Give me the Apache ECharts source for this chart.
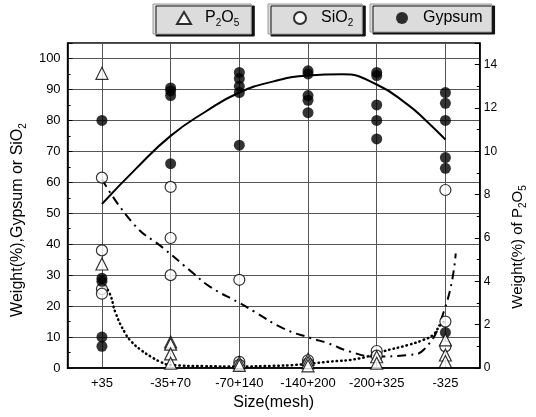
<!DOCTYPE html>
<html>
<head>
<meta charset="utf-8">
<script src="https://cdn.jsdelivr.net/npm/echarts@6/dist/echarts.min.js"></script>
<style>
    html, body { margin: 0; padding: 0; background: #fff; }
    #main { width: 536px; height: 417px; }
</style>
</head>
<body>
<div id="main"></div>
<script>
    var categories = ['+35', '-35+70', '-70+140', '-140+200', '-200+325', '-325'];

    // measured points, one list per size fraction (left axis, %)
    var gypsum = [
        [80, 29, 28, 10, 7],
        [90.5, 89.5, 88, 66],
        [95.5, 93.5, 91, 89, 72],
        [96, 95, 88, 86.5, 82.5],
        [95.5, 94.5, 85, 80, 74],
        [89, 85.5, 80, 68, 64.5, 11.5]
    ];
    var sio2 = [
        [61.5, 38, 25.5, 24],
        [58.5, 42, 30],
        [28.5, 2, 1],
        [2.5, 1.5],
        [5.5, 4],
        [57.5, 15, 7]
    ];
    // right axis, %
    var p2o5 = [
        [13.6, 4.8],
        [1.2, 1.1, 0.65, 0.22],
        [0.25, 0.12],
        [0.4, 0.25, 0.1],
        [0.52, 0.22],
        [1.3, 0.6, 0.3]
    ];

    // fitted curves (x = category position)
    var gypsumFitX = [1, 1.5, 2, 2.5, 3, 3.5, 4, 4.5, 5, 5.45, 5.7, 6];
    var gypsumFitY = [53, 64.5, 75, 82.7, 89, 92.6, 94.5, 94.9, 91.6, 85.1, 80.3, 73.8];
    var dashFitX = [1, 1.47, 1.89, 2.33, 2.57, 3.01, 3.22, 3.64, 4.05, 4.29, 4.61, 4.98, 5.45, 5.68, 6.0, 6.15];
    var dashFitY = [61, 46.3, 38.8, 30.6, 26.3, 20.9, 18.2, 12.8, 9.6, 8.0, 5.3, 3.7, 4.2, 5.8, 19.8, 37];
    var dotFitX = [1, 1.11, 1.2, 1.34, 1.43, 1.57, 1.71, 1.85, 1.99, 2.5, 3, 3.5, 3.82, 4.29, 4.75, 5.08, 5.45, 5.68, 5.82, 5.91, 5.98];
    var dotFitY = [27.5, 24.2, 17.7, 11.2, 8.5, 5.8, 3.7, 2, 1, 0.6, 0.5, 0.7, 1, 2, 3.1, 5.3, 7.4, 9.1, 10.7, 13.4, 15];

    var font = '"Liberation Sans", Arial, sans-serif';

    function toPoints(groups) {
        var pts = [];
        groups.forEach(function (vals, i) {
            vals.forEach(function (v) { pts.push([i + 1, v]); });
        });
        return pts;
    }
    function zip(xs, ys) {
        return xs.map(function (x, i) { return [x, ys[i]]; });
    }

    var subRich = {
        n: { fontSize: 16, lineHeight: 20, fontFamily: font, color: '#000' },
        s: { fontSize: 10, lineHeight: 10, verticalAlign: 'bottom', fontFamily: font, color: '#000' }
    };

    function legendBox(name, label, left, padding) {
        return {
            data: [name],
            left: left,
            top: 4,
            padding: padding,
            itemWidth: 14,
            itemHeight: 12,
            selectedMode: false,
            backgroundColor: '#dcdcdc',
            borderColor: '#999',
            borderWidth: 1,
            shadowColor: '#111',
            shadowOffsetX: 3,
            shadowOffsetY: 2,
            shadowBlur: 0,
            formatter: function () { return label; },
            textStyle: { fontFamily: font, fontSize: 16, color: '#000', padding: [0, 0, 0, 9], rich: subRich }
        };
    }

    var myChart = echarts.init(document.getElementById('main'));
    myChart.setOption({
        animation: false,
        textStyle: { fontFamily: font },
        legend: [
            legendBox('P2O5', '{n|P}{s|2}{n|O}{s|5}', 153, [6, 12, 6, 23]),
            legendBox('SiO2', '{n|SiO}{s|2}', 268, [6, 9, 6, 25]),
            legendBox('Gypsum', '{n|Gypsum}', 370, [6, 9, 6, 26])
        ],
        grid: {
            left: 62,
            right: 44,
            top: 43,
            bottom: 49,
            show: true,
            borderColor: '#000',
            borderWidth: 1.5
        },
        xAxis: [
            {
                type: 'category',
                data: categories,
                boundaryGap: true,
                name: 'Size(mesh)',
                nameLocation: 'middle',
                nameGap: 24,
                nameTextStyle: { fontSize: 16, color: '#000' },
                axisLine: { lineStyle: { color: '#000', width: 1.5 } },
                axisTick: { alignWithLabel: true, inside: true, length: 5, lineStyle: { color: '#000' } },
                axisLabel: { interval: 0, fontSize: 13, color: '#000', margin: 9 },
                splitLine: { show: true, alignWithLabel: true, lineStyle: { color: '#555', width: 1 } }
            },
            {
                type: 'value',
                min: 0.5,
                max: 6.5,
                show: false
            }
        ],
        yAxis: [
            {
                type: 'value',
                min: 0,
                max: 105,
                interval: 10,
                position: 'left',
                name: 'Weight(%),Gypsum or SiO{s|2}',
                nameLocation: 'middle',
                nameRotate: 90,
                nameGap: 32,
                nameTextStyle: { fontSize: 16, lineHeight: 20, color: '#000', padding: [0, 29, 0, 0], rich: subRich },
                axisLine: { show: true, lineStyle: { color: '#000', width: 1.5 } },
                axisTick: { inside: true, length: 5, lineStyle: { color: '#000' } },
                minorTick: { show: true, splitNumber: 2, length: 3, lineStyle: { color: '#000' } },
                axisLabel: {
                    fontSize: 13, color: '#000', margin: 7, showMaxLabel: false,
                    formatter: function (v) { return v > 100 ? '' : v; }
                },
                splitLine: { lineStyle: { color: '#555', width: 1 } }
            },
            {
                type: 'value',
                min: 0,
                max: 15,
                interval: 2,
                position: 'right',
                name: 'Weight(%) of P{s|2}O{s|5}',
                nameLocation: 'middle',
                nameRotate: 90,
                nameGap: 18,
                nameTextStyle: { fontSize: 15, lineHeight: 20, color: '#000', padding: [0, 83, 0, 0], rich: subRich },
                axisLine: { show: true, lineStyle: { color: '#000', width: 1.5 } },
                axisTick: { inside: true, length: 5, lineStyle: { color: '#000' } },
                minorTick: { show: true, splitNumber: 2, length: 3, lineStyle: { color: '#000' } },
                axisLabel: {
                    fontSize: 12, color: '#000', margin: 4, showMaxLabel: false,
                    formatter: function (v) { return v > 14 ? '' : v; }
                },
                splitLine: { show: false }
            }
        ],
        series: [
            {
                name: 'gypsumFit',
                type: 'line',
                xAxisIndex: 1,
                yAxisIndex: 0,
                data: zip(gypsumFitX, gypsumFitY),
                smooth: true,
                symbol: 'none',
                lineStyle: { color: '#000', width: 2 },
                z: 2
            },
            {
                name: 'dashFit',
                type: 'line',
                xAxisIndex: 1,
                yAxisIndex: 0,
                data: zip(dashFitX, dashFitY),
                smooth: true,
                symbol: 'none',
                lineStyle: { color: '#000', width: 2, type: [9, 5, 2, 5] },
                z: 2
            },
            {
                name: 'dotFit',
                type: 'line',
                xAxisIndex: 1,
                yAxisIndex: 0,
                data: zip(dotFitX, dotFitY),
                smooth: true,
                symbol: 'none',
                lineStyle: { color: '#000', width: 2.5, type: [0.5, 4], cap: 'round' },
                z: 2
            },
            {
                name: 'SiO2',
                type: 'scatter',
                xAxisIndex: 1,
                yAxisIndex: 0,
                data: toPoints(sio2),
                symbol: 'circle',
                symbolSize: 11,
                itemStyle: { color: '#fff', borderColor: '#000', borderWidth: 1.2 },
                z: 3
            },
            {
                name: 'Gypsum',
                type: 'scatter',
                xAxisIndex: 1,
                yAxisIndex: 0,
                data: toPoints(gypsum),
                symbol: 'circle',
                symbolSize: 11,
                itemStyle: { color: '#000' },
                z: 4
            },
            {
                name: 'P2O5',
                type: 'scatter',
                xAxisIndex: 1,
                yAxisIndex: 1,
                data: toPoints(p2o5),
                symbol: 'triangle',
                symbolSize: 12,
                itemStyle: { color: '#fff', borderColor: '#000', borderWidth: 1.2 },
                z: 5
            }
        ]
    });
</script>
</body>
</html>
